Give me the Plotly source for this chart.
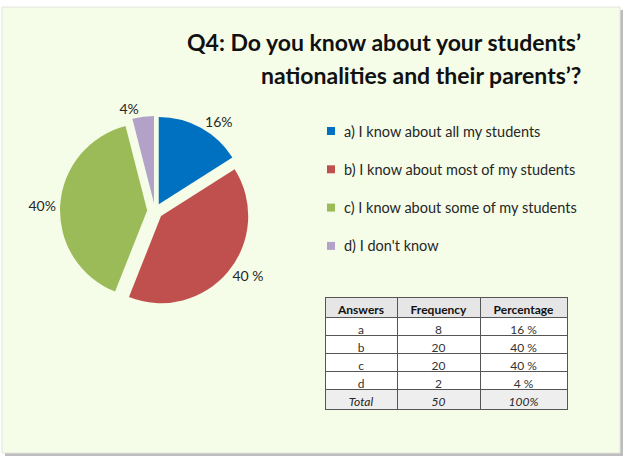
import plotly.graph_objects as go

# ---- data ----
answers = ["a", "b", "c", "d"]
labels = [
    "a) I know about all my students",
    "b) I know about most of my students",
    "c) I know about some of my students",
    "d) I don't know",
]
frequency = [8, 20, 20, 2]
pie_text = ["16%", "40 %", "40%", "4%"]
table_pct = ["16 %", "40 %", "40 %", "4 %"]
table_header = ["Answers", "Frequency", "Percentage"]
total_row = ["Total", "50", "100%"]
colors = ["#0070c0", "#c0504d", "#9bbb59", "#b3a2c7"]
title_lines = ["Q4: Do you know about your students’", "nationalities and their parents’?"]

W, H = 627, 463
FONT = "Lato"


def px(x):
    return x / W


def py(y):
    return 1 - y / H


fig = go.Figure()

fig.add_trace(go.Pie(
    labels=labels,
    values=frequency,
    text=pie_text,
    texttemplate="%{text}",
    textposition="outside",
    sort=False,
    direction="clockwise",
    rotation=0,
    pull=0.09,
    marker=dict(colors=colors, line=dict(width=0)),
    domain=dict(x=[px(60), px(250)], y=[py(306), py(116)]),
    showlegend=False,
    outsidetextfont=dict(size=14, color="#262626", family=FONT),
    hoverinfo="label+value+percent",
))

TBL_X = [px(325), px(567)]
COLW = [72, 83, 87]
HDR_H, ROW_H, TOT_H = 20, 18, 20
tbl_top = 297
body_bottom = tbl_top + HDR_H + ROW_H * len(answers)

fig.add_trace(go.Table(
    domain=dict(x=TBL_X, y=[py(body_bottom + 30), py(tbl_top)]),
    columnwidth=COLW,
    header=dict(
        values=table_header,
        fill_color="#e6e6e6",
        line=dict(color="#555555", width=1),
        align="center",
        font=dict(family=FONT, size=12, color="#111111", weight="bold"),
        height=HDR_H,
    ),
    cells=dict(
        values=[answers, [str(f) for f in frequency], table_pct],
        fill_color="#ffffff",
        line=dict(color="#555555", width=1),
        align="center",
        font=dict(family=FONT, size=12, color="#333333"),
        height=ROW_H,
    ),
))

# total row as a second table directly below
fig.add_trace(go.Table(
    domain=dict(x=TBL_X, y=[py(body_bottom + 40), py(body_bottom)]),
    columnwidth=COLW,
    header=dict(
        values=total_row,
        fill_color="#eeeeee",
        line=dict(color="#555555", width=1),
        align="center",
        font=dict(family=FONT, size=12, color="#262626", style="italic"),
        height=TOT_H,
    ),
    cells=dict(values=[[], [], []], height=ROW_H, line=dict(width=0), fill_color="rgba(0,0,0,0)"),
))

shapes = [
    # card shadow
    dict(type="rect", xref="paper", yref="paper", x0=px(5), x1=px(623), y0=py(456), y1=py(10),
         fillcolor="#bdbdbd", line=dict(width=0), layer="below"),
    # card
    dict(type="rect", xref="paper", yref="paper", x0=px(2), x1=px(620), y0=py(453), y1=py(7),
         fillcolor="#f5fde9", line=dict(color="#e2e6dc", width=1), layer="below"),
]

annotations = []
# title
annotations.append(dict(text=f"<b>{title_lines[0]}</b>", x=px(583), y=py(42), xref="paper", yref="paper",
                        xanchor="right", yanchor="middle", showarrow=False,
                        font=dict(family=FONT, size=23, color="#111111")))
annotations.append(dict(text=f"<b>{title_lines[1]}</b>", x=px(583), y=py(75), xref="paper", yref="paper",
                        xanchor="right", yanchor="middle", showarrow=False,
                        font=dict(family=FONT, size=23, color="#111111")))

# manual legend
leg_top, leg_gap = 131, 38.3
for i, (lab, col) in enumerate(zip(labels, colors)):
    yc = leg_top + i * leg_gap
    shapes.append(dict(type="rect", xref="paper", yref="paper", x0=px(327), x1=px(335),
                       y0=py(yc + 4), y1=py(yc - 4), fillcolor=col, line=dict(width=0)))
    annotations.append(dict(text=lab, x=px(342), y=py(yc), xref="paper", yref="paper",
                            xanchor="left", yanchor="middle", showarrow=False,
                            font=dict(family=FONT, size=14.5, color="#262626")))

fig.update_layout(
    width=W, height=H,
    margin=dict(l=0, r=0, t=0, b=0),
    paper_bgcolor="#ffffff",
    plot_bgcolor="#ffffff",
    shapes=shapes,
    annotations=annotations,
)

fig.write_html("out.html")
